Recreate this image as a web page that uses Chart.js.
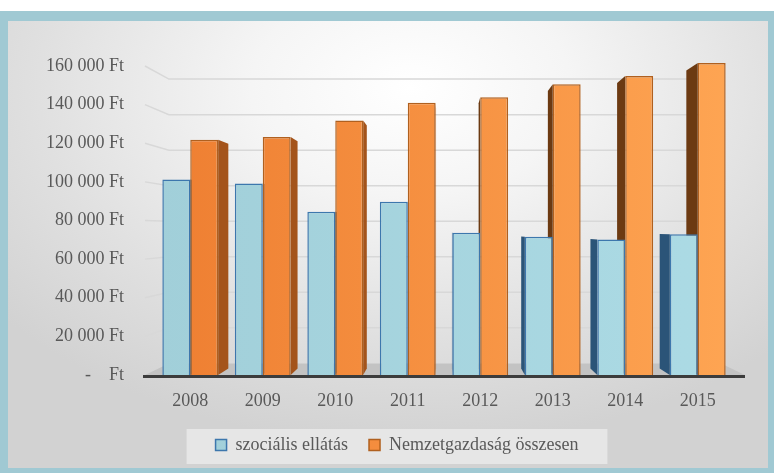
<!DOCTYPE html>
<html lang="hu">
<head>
<meta charset="UTF-8">
<title>Átlagkereset</title>
<script src="https://cdn.jsdelivr.net/npm/chart.js@4.4.0/dist/chart.umd.min.js"></script>
<style>
    body {
        margin: 0;
        background: #ffffff;
    }

    #frame {
        position: absolute;
        left: 0;
        top: 11px;
        width: 774px;
        height: 462px;
        box-sizing: border-box;
        border-style: solid;
        border-color: #a0c9d3;
        border-width: 10px 6px 5px 8px;
        background: radial-gradient(ellipse 70% 80% at 53% 15%, #ffffff 0%, #f5f5f5 30%, #e0e0e0 70%, #d2d2d2 100%);
    }

    #chart {
        position: absolute;
        left: 0;
        top: 0;
    }
</style>
</head>
<body>
<div id="frame"></div>
<canvas id="chart" width="774" height="473"></canvas>

<script>
    // adatok
    const years = ['2008', '2009', '2010', '2011', '2012', '2013', '2014', '2015'];
    const socialCare = [101200, 99100, 84500, 89700, 73600, 71600, 70200, 72900];
    const nationalEconomy = [121800, 123200, 131800, 141000, 143800, 150500, 154800, 161500];
    const seriesNames = ['szociális ellátás', 'Nemzetgazdaság összesen'];
    const yMax = 160000;
    const yStep = 20000;

    const textColor = '#595959';
    const serif = '"Liberation Serif", "Times New Roman", serif';

    function formatFt(v) {
        if (v === 0) return '-    Ft';
        return String(v).replace(/\B(?=(\d{3})+(?!\d))/g, ' ') + ' Ft';
    }

    function barFill(c0, c1) {
        return function(context) {
            const a = context.chart.chartArea;
            if (!a) return c0;
            const g = context.chart.ctx.createLinearGradient(a.left, 0, a.right, 0);
            g.addColorStop(0, c0);
            g.addColorStop(1, c1);
            return g;
        };
    }

    // perspective helper: pulls a point toward the vanishing point
    function toBack(chart, px, py, d) {
        const a = chart.chartArea;
        const vx = (a.left + a.right) / 2;
        const vy = 230;
        return [px + (vx - px) * d, py + (vy - py) * d];
    }

    function poly(ctx, pts) {
        ctx.beginPath();
        ctx.moveTo(pts[0][0], pts[0][1]);
        for (let i = 1; i < pts.length; i++) ctx.lineTo(pts[i][0], pts[i][1]);
        ctx.closePath();
        ctx.fill();
    }

    const legendBox = {
        id: 'legendBox',
        afterLayout(chart) {
            // legend sits a bit right of the plot centre in the original
            const lg = chart.legend;
            if (!lg) return;
            lg.left += 26;
            lg.right += 26;
            lg.top += 2;
            lg.bottom += 2;
        },
        beforeDraw(chart) {
            const hb = chart.legend && chart.legend.legendHitBoxes;
            if (!hb || !hb.length) return;
            const ctx = chart.ctx;
            const last = hb[hb.length - 1];
            const left = hb[0].left - 29;
            const right = last.left + last.width + 29;
            const cy = hb[0].top + hb[0].height / 2;
            ctx.save();
            ctx.fillStyle = '#e6e6e6';
            ctx.fillRect(left, cy - 16, right - left, 35);
            ctx.restore();
        }
    };

    const depth3d = {
        id: 'depth3d',
        beforeDatasetsDraw(chart) {
            const ctx = chart.ctx;
            const a = chart.chartArea;
            const y = chart.scales.y;
            const vx = (a.left + a.right) / 2;
            const fl = a.left - 9;
            const fr = a.right + 11;
            const base = y.getPixelForValue(0);
            ctx.save();

            // floor
            const bl = toBack(chart, fl, base, 0.08);
            const br = toBack(chart, fr, base, 0.08);
            ctx.fillStyle = '#c3c3c3';
            poly(ctx, [[fl, base], [fr, base], br, bl]);

            // grid lines: short diagonal on the left, then along the back wall
            ctx.strokeStyle = '#d8d8d8';
            ctx.lineWidth = 1.5;
            y.ticks.forEach(function(t) {
                if (t.value === 0) return;
                const py = y.getPixelForValue(t.value);
                const p1 = toBack(chart, fl, py, 0.08);
                const p2 = toBack(chart, fr, py, 0.08);
                ctx.beginPath();
                ctx.moveTo(fl, py);
                ctx.lineTo(p1[0], p1[1]);
                ctx.lineTo(p2[0], p1[1]);
                ctx.stroke();
            });

            // axis line at the front of the floor
            ctx.strokeStyle = '#3c3c3c';
            ctx.lineWidth = 3;
            ctx.beginPath();
            ctx.moveTo(fl - 2, base + 1.5);
            ctx.lineTo(fr, base + 1.5);
            ctx.stroke();

            // bar side faces
            chart.data.datasets.forEach(function(ds, i) {
                const meta = chart.getDatasetMeta(i);
                meta.data.forEach(function(bar) {
                    const p = bar.getProps(['x', 'y', 'base', 'width'], true);
                    const onRight = p.x < vx;
                    const xf = onRight ? p.x + p.width / 2 : p.x - p.width / 2;
                    const t = toBack(chart, xf, p.y, 0.045);
                    const b = toBack(chart, xf, p.base, 0.045);
                    if (i === 0) {
                        ctx.fillStyle = onRight ? '#3a6c98' : '#2b5478';
                    } else {
                        ctx.fillStyle = onRight ? '#a4541b' : '#6c3a12';
                    }
                    poly(ctx, [[xf, p.y], t, b, [xf, p.base]]);
                });
            });
            ctx.restore();
        }
    };

    new Chart(document.getElementById('chart'), {
        type: 'bar',
        data: {
            labels: years,
            datasets: [{
                label: seriesNames[0],
                data: socialCare,
                backgroundColor: barFill('#a1cfd9', '#acdbe5'),
                borderColor: '#3d77ad',
                borderWidth: 1.5,
                clip: false
            }, {
                label: seriesNames[1],
                data: nationalEconomy,
                backgroundColor: barFill('#ee7e31', '#fea553'),
                borderColor: '#b0601f',
                borderWidth: 1.5,
                clip: false
            }]
        },
        options: {
            responsive: false,
            animation: false,
            devicePixelRatio: 1,
            layout: {
                padding: { top: 66, left: 8, right: 40, bottom: 11 }
            },
            datasets: {
                bar: {
                    barPercentage: 1,
                    categoryPercentage: 0.77
                }
            },
            scales: {
                x: {
                    afterFit: function(scale) { scale.height = 38; },
                    grid: { display: false, drawTicks: false },
                    border: { display: false },
                    ticks: {
                        color: textColor,
                        padding: 15,
                        font: { family: serif, size: 18 }
                    }
                },
                y: {
                    min: 0,
                    max: yMax,
                    afterFit: function(scale) { scale.width = 146; },
                    grid: { display: false, drawTicks: false },
                    border: { display: false },
                    ticks: {
                        stepSize: yStep,
                        color: textColor,
                        padding: 30,
                        font: { family: serif, size: 18 },
                        callback: function(v) { return formatFt(v); }
                    }
                }
            },
            plugins: {
                tooltip: { enabled: false },
                legend: {
                    position: 'bottom',
                    labels: {
                        color: textColor,
                        boxWidth: 11,
                        boxHeight: 11,
                        padding: 21,
                        font: { family: serif, size: 18 }
                    }
                }
            }
        },
        plugins: [legendBox, depth3d]
    });
</script>
</body>
</html>
